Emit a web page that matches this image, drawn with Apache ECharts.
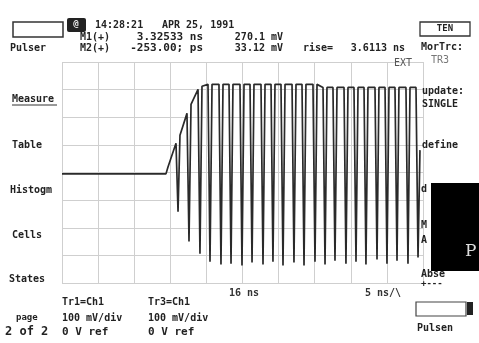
<!DOCTYPE html>
<html>
<head>
<meta charset="utf-8">
<script src="https://cdn.jsdelivr.net/npm/echarts@6/dist/echarts.min.js"></script>
<style>
  html, body { margin: 0; padding: 0; background: #ffffff; }
  #chart { width: 479px; height: 343px; }
</style>
</head>
<body>
<div id="chart"></div>
<script>
// Captured trace vertices: time (ns from left edge of screen) and amplitude (mV)
const traceTimeNs = [
  0.00, 14.40, 14.68, 15.24, 15.79, 16.07, 16.34, 17.31, 17.59, 17.87, 18.84, 19.11, 19.39,
  20.22, 20.50, 20.78, 21.74, 22.02, 22.30, 23.13, 23.41, 23.68, 24.65, 24.93, 25.21,
  26.04, 26.32, 26.59, 27.56, 27.84, 28.12, 28.95, 29.22, 29.50, 30.33, 30.61, 30.89,
  31.86, 32.13, 32.41, 33.24, 33.52, 33.79, 34.76, 35.04, 35.32, 36.15, 36.43, 36.70,
  37.53, 37.81, 38.09, 39.06, 39.33, 39.61, 40.44, 40.72, 41.00, 41.83, 42.10, 42.38,
  43.35, 43.63, 43.90, 44.74, 45.01, 45.29, 46.12, 46.40, 46.67, 47.64, 47.92, 48.20,
  49.03, 49.31, 49.58
];
const traceMilliVolts = [
  -5, -5, 20, 63, 106, -142, 135, 214, -250, 247, 301, -294, 312,
  319, -323, 319, 319, -333, 319, 319, -330, 319, 319, -337, 319,
  319, -326, 319, 319, -333, 319, 319, -323, 319, 319, -337, 319,
  319, -326, 319, 319, -337, 319, 319, -323, 319, 308, -333, 308,
  308, -319, 308, 308, -330, 308, 308, -323, 308, 308, -333, 308,
  308, -315, 308, 308, -330, 308, 308, -319, 308, 308, -330, 308,
  308, -308, 81
];

// Screen: 10 horizontal divisions at 5 ns/div, 8 vertical divisions at 100 mV/div
const timeDivs = [0, 50, 5];
const voltDivs = [-400, 400, 100];

const traceData = traceTimeNs.map((t, i) => [t, traceMilliVolts[i]]);

const mono = '"DejaVu Sans Mono", monospace';
const ink = '#222';

// Screen annotations drawn around the graticule
const labels = [
  ['14:28:21', 95, 25, 10], ['APR 25, 1991', 162, 25, 10],
  ['M1(+)', 80, 37, 10], ['3.32533 ns', 203, 37, 11, 'right'], ['270.1 mV', 283, 37, 10, 'right'],
  ['Pulser', 10, 48, 10], ['M2(+)', 80, 48, 10], ['-253.00; ps', 203, 48, 11, 'right'],
  ['33.12 mV', 283, 48, 10, 'right'], ['rise=', 303, 48, 10], ['3.6113 ns', 405, 48, 10, 'right'],
  ['EXT', 394, 63, 10, 'left', '#555', 'normal'],
  ['MorTrc:', 421, 47, 10], ['TR3', 431, 60, 10, 'left', '#777', 'normal'],
  ['TEN', 445, 29, 9, 'center'],
  ['Measure', 12, 99, 10], ['Table', 12, 145, 10], ['Histogm', 10, 190, 10],
  ['Cells', 12, 235, 10], ['States', 9, 279, 10],
  ['update:', 422, 91, 10], ['SINGLE', 422, 104, 10], ['define', 422, 145, 10],
  ['d', 421, 189, 10], ['M', 421, 225, 10], ['A', 421, 240, 10],
  ['Abse', 421, 274, 10], ['+---', 421, 284, 9],
  ['16 ns', 229, 293, 10, 'left', '#333'], ['5 ns/\\', 365, 293, 10, 'left', '#333'],
  ['Tr1=Ch1', 62, 302, 10], ['Tr3=Ch1', 148, 302, 10],
  ['page', 16, 318, 9], ['100 mV/div', 62, 318, 10], ['100 mV/div', 148, 318, 10],
  ['2 of 2', 5, 332, 12], ['0 V ref', 62, 332, 11], ['0 V ref', 148, 332, 11],
  ['Pulsen', 417, 328, 10]
];

const graphics = labels.map(([text, x, y, size, align, color, weight]) => ({
  type: 'text',
  x: x, y: y,
  style: {
    text: text,
    font: (weight || 'bold') + ' ' + size + 'px ' + mono,
    fill: color || ink,
    textAlign: align || 'left',
    textVerticalAlign: 'middle'
  },
  z: 10
}));

// Softkey frames, status icon and menu decorations
graphics.push(
  { type: 'rect', shape: { x: 13, y: 22, width: 50, height: 15 }, style: { fill: '#fff', stroke: '#333', lineWidth: 1.5 }, z: 5 },
  { type: 'rect', shape: { x: 67, y: 18, width: 19, height: 14, r: 2 }, style: { fill: '#222' }, z: 5 },
  { type: 'text', x: 76, y: 25, style: { text: '@', font: 'bold 9px ' + mono, fill: '#eee', textAlign: 'center', textVerticalAlign: 'middle' }, z: 6 },
  { type: 'rect', shape: { x: 420, y: 22, width: 50, height: 14 }, style: { fill: '#fff', stroke: '#333', lineWidth: 1.3 }, z: 5 },
  { type: 'line', shape: { x1: 12, y1: 105, x2: 57, y2: 105 }, style: { stroke: '#333', lineWidth: 1 }, z: 5 },
  { type: 'rect', shape: { x: 431, y: 183, width: 48, height: 88 }, style: { fill: '#000' }, z: 7 },
  { type: 'text', x: 465, y: 252, style: { text: 'P', font: '17px "DejaVu Serif", serif', fill: '#ddd', textVerticalAlign: 'middle' }, z: 8 },
  { type: 'rect', shape: { x: 416, y: 302, width: 50, height: 14 }, style: { fill: '#fff', stroke: '#444', lineWidth: 1.2 }, z: 5 },
  { type: 'rect', shape: { x: 467, y: 302, width: 6, height: 13 }, style: { fill: '#222' }, z: 5 }
);

const chart = echarts.init(document.getElementById('chart'), null, { renderer: 'canvas' });
chart.setOption({
  backgroundColor: '#ffffff',
  animation: false,
  grid: { left: 62, right: 56, top: 62, bottom: 60, show: false },
  xAxis: {
    type: 'value', min: timeDivs[0], max: timeDivs[1], interval: timeDivs[2],
    axisLine: { show: false }, axisTick: { show: false }, axisLabel: { show: false },
    splitLine: { show: true, lineStyle: { color: '#cfcfcf', width: 1 } }
  },
  yAxis: {
    type: 'value', min: voltDivs[0], max: voltDivs[1], interval: voltDivs[2],
    axisLine: { show: false }, axisTick: { show: false }, axisLabel: { show: false },
    splitLine: { show: true, lineStyle: { color: '#cfcfcf', width: 1 } }
  },
  series: [{
    type: 'line',
    data: traceData,
    showSymbol: false,
    lineStyle: { color: '#2a2a2a', width: 1.7 },
    z: 3
  }],
  graphic: graphics
});
</script>
</body>
</html>
